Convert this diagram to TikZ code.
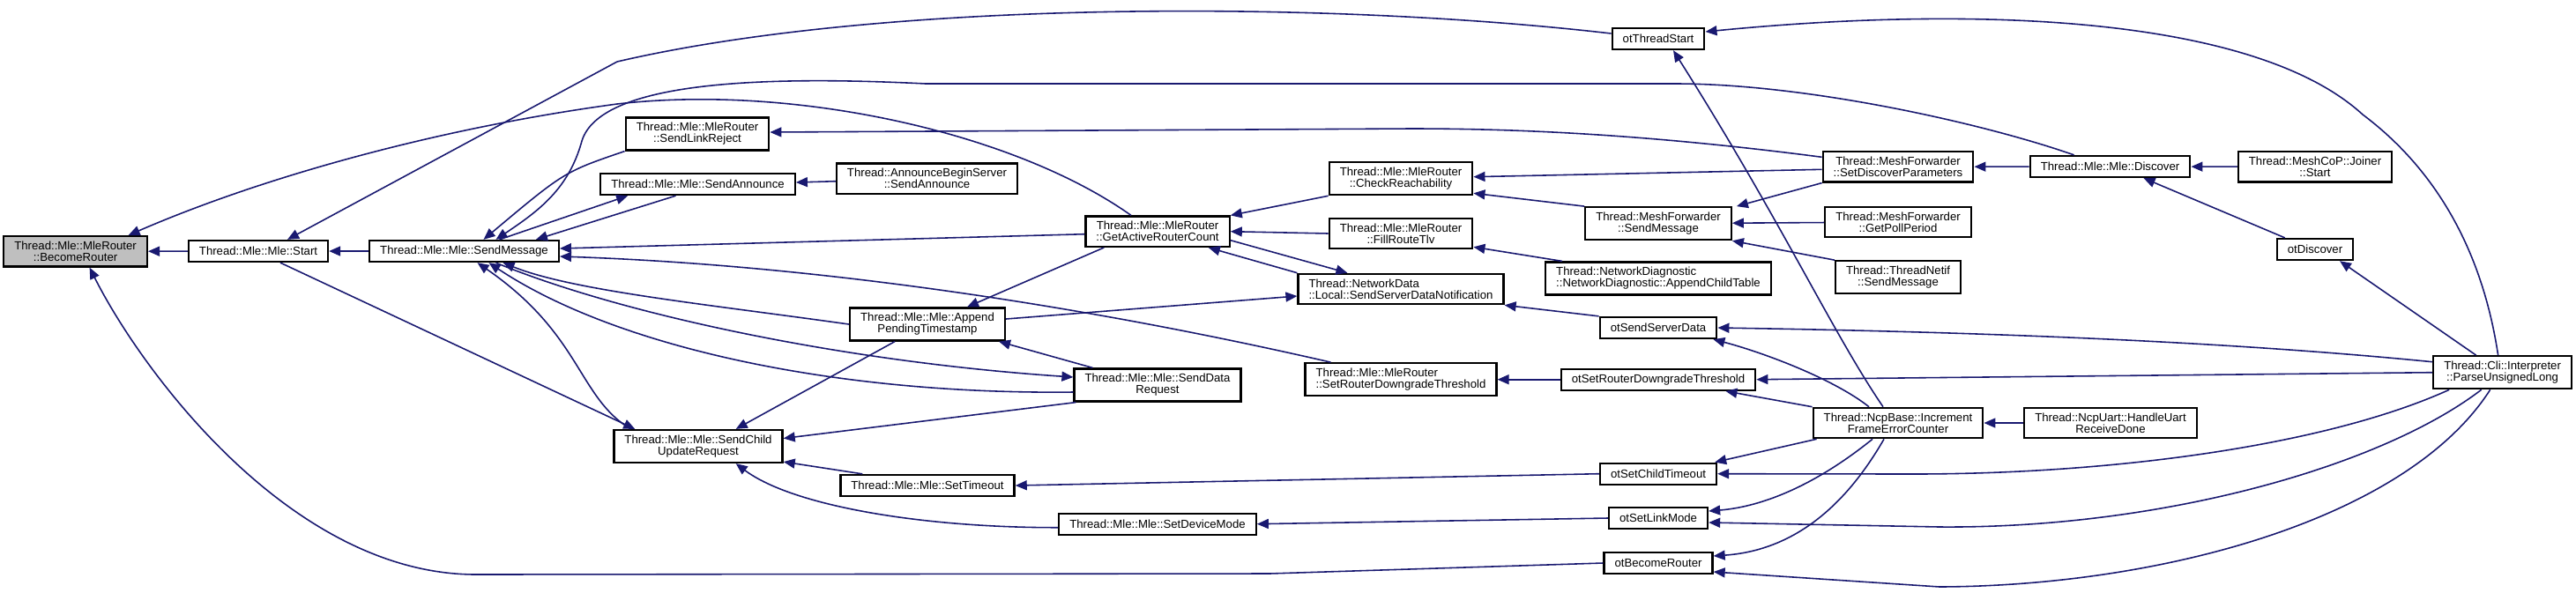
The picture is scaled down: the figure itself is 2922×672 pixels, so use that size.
\documentclass[tikz,border=0pt]{standalone}
\usepackage{fontspec}
\setmainfont{Liberation Sans}
\usetikzlibrary{arrows.meta,calc}
\definecolor{Edge}{HTML}{191970}
\definecolor{RootFill}{HTML}{BFBFBF}

\begin{document}
\begin{tikzpicture}[x=0.01cm,y=-0.01cm,>={Triangle[length=0.13cm,width=0.11cm]},
  fn/.style={draw=black,fill=white,line width=0.65pt,inner xsep=0.12cm,inner ysep=0.058cm,
    minimum height=0.24cm,align=center,font=\fontsize{3.75}{3.7}\selectfont},
  fnl/.style={fn,align=left},
  rootfn/.style={fn,fill=RootFill},
  call/.style={->,Edge,line width=0.45pt}]
\useasboundingbox (0,0) rectangle (2922,672);
\node[rootfn] (BR) at (85.6,285.3) {Thread::Mle::MleRouter\\::BecomeRouter};
\node[fn] (Start) at (293,285) {Thread::Mle::Mle::Start};
\node[fn] (SM) at (526.5,285) {Thread::Mle::Mle::SendMessage};
\node[fn] (SLR) at (791,152) {Thread::Mle::MleRouter\\::SendLinkReject};
\node[fn] (SA) at (791.5,209) {Thread::Mle::Mle::SendAnnounce};
\node[fn] (SCUR) at (792,506.5) {Thread::Mle::Mle::SendChild\\UpdateRequest};
\node[fn] (ABS) at (1051.5,202.7) {Thread::AnnounceBeginServer\\::SendAnnounce};
\node[fn] (APT) at (1052,368) {Thread::Mle::Mle::Append\\PendingTimestamp};
\node[fn] (ST) at (1052,551) {Thread::Mle::Mle::SetTimeout};
\node[fn] (GARC) at (1313,262.7) {Thread::Mle::MleRouter\\::GetActiveRouterCount};
\node[fn] (SDR) at (1313,437) {Thread::Mle::Mle::SendData\\Request};
\node[fn] (SDM) at (1313,594.7) {Thread::Mle::Mle::SetDeviceMode};
\node[fn] (CR) at (1589,202.7) {Thread::Mle::MleRouter\\::CheckReachability};
\node[fn] (FRT) at (1589,265) {Thread::Mle::MleRouter\\::FillRouteTlv};
\node[fnl] (SSDN) at (1589,328) {Thread::NetworkData\\::Local::SendServerDataNotification};
\node[fnl] (SRDT) at (1589,430.7) {Thread::Mle::MleRouter\\::SetRouterDowngradeThreshold};
\node[fn] (OTS) at (1881,44) {otThreadStart};
\node[fn] (MFSM) at (1881,253.7) {Thread::MeshForwarder\\::SendMessage};
\node[fnl] (ACT) at (1881,316) {Thread::NetworkDiagnostic\\::NetworkDiagnostic::AppendChildTable};
\node[fn] (OSSD) at (1881,372) {otSendServerData};
\node[fn] (OSRDT) at (1881,430.7) {otSetRouterDowngradeThreshold};
\node[fn] (OSCT) at (1881,537.7) {otSetChildTimeout};
\node[fn] (OSLM) at (1881,588) {otSetLinkMode};
\node[fn] (OBR) at (1881,639) {otBecomeRouter};
\node[fn] (SDP) at (2153,189.3) {Thread::MeshForwarder\\::SetDiscoverParameters};
\node[fn] (GPP) at (2153,252) {Thread::MeshForwarder\\::GetPollPeriod};
\node[fn] (TNSM) at (2153,314.7) {Thread::ThreadNetif\\::SendMessage};
\node[fn] (IFEC) at (2153,480) {Thread::NcpBase::Increment\\FrameErrorCounter};
\node[fn] (DIS) at (2393.5,189) {Thread::Mle::Mle::Discover};
\node[fn] (HURD) at (2394,480) {Thread::NcpUart::HandleUart\\ReceiveDone};
\node[fn] (JS) at (2626,189.3) {Thread::MeshCoP::Joiner\\::Start};
\node[fn] (OD) at (2626,283) {otDiscover};
\node[fn] (PUL) at (2838.6,422.7) {Thread::Cli::Interpreter\\::ParseUnsignedLong};
\draw[call] (Start) -- (BR);
\draw[call] ($(GARC.north)+(-30,0)$) .. controls (1150,150) and (900,95) .. (700,118) .. controls (500,145) and (300,200) .. ($(BR.north)+(60,0)$);
\draw[call] (OBR.west) -- (1440,651) -- (540,652) .. controls (330,652) and (160,420) .. ($(BR.south)+(16,0)$);
\draw[call] (SM) -- (Start);
\draw[call] ($(OTS.west)+(0,-6)$) .. controls (1500,0) and (1000,0) .. (700,70) -- ($(Start.north)+(33,0)$);
\draw[call] ($(Start.south)+(25,0)$) -- ($(SCUR.north west)+(25,0)$);
\draw[call] ($(DIS.north)+(-41,0)$) .. controls (2250,140) and (2050,95) .. (1900,95) -- (1050,95) .. controls (850,85) and (680,95) .. (660,160) .. controls (645,215) and (610,240) .. ($(SM.north)+(36,0)$);
\draw[call] (SLR.south west) .. controls (640,195) .. ($(SM.north)+(22,0)$);
\draw[call] ($(SM.north)+(40,0)$) -- ($(SA.south west)+(32,0)$);
\draw[call] ($(SA.south)+(-25,0)$) -- ($(SM.north east)+(-27,0)$);
\draw[call] ($(ABS.west)+(0,3)$) -- ($(SA.east)+(0,-2)$);
\draw[call] ($(GARC.west)+(0,3)$) -- ($(SM.east)+(0,-3)$);
\draw[call] ($(SRDT.north west)+(30,0)$) .. controls (1200,340) and (900,300) .. ($(SM.east)+(0,6)$);
\draw[call] ($(SCUR.north west)+(20,0)$) .. controls (655,450) and (660,380) .. ($(SM.south)+(15,0)$);
\draw[call] (APT.west) .. controls (800,345) and (650,330) .. ($(SM.south)+(44,0)$);
\draw[call] ($(SM.south)+(36,0)$) .. controls (700,355) and (950,410) .. ($(SDR.west)+(0,-9)$);
\draw[call] ($(SDR.west)+(0,8)$) .. controls (950,448) and (700,395) .. ($(SM.south)+(28,0)$);
\draw[call] (CR.south west) -- (GARC.north east);
\draw[call] (FRT.west) -- (GARC.east);
\draw[call] (SSDN.north west) -- ($(GARC.south east)+(-25,0)$);
\draw[call] ($(GARC.east)+(0,10)$) -- ($(SSDN.north west)+(57,0)$);
\draw[call] ($(GARC.south west)+(22,0)$) -- ($(APT.north)+(45,0)$);
\draw[call] ($(APT.east)+(0,-6)$) -- ($(SSDN.west)+(0,8)$);
\draw[call] ($(SDR.north west)+(22,0)$) -- ($(APT.south east)+(-8,0)$);
\draw[call] ($(SDR.south west)+(3,0)$) -- ($(SCUR.east)+(0,-9)$);
\draw[call] ($(APT.south)+(-37,0)$) -- ($(SCUR.north east)+(-54,0)$);
\draw[call] ($(ST.north west)+(26,0)$) -- ($(SCUR.south east)+(0,-2)$);
\draw[call] ($(SDM.west)+(0,4)$) .. controls (1050,599) and (900,575) .. ($(SCUR.south east)+(-54,0)$);
\draw[call] (OSCT.west) -- (ST.east);
\draw[call] (OSLM.west) -- (SDM.east);
\draw[call] (OSRDT) -- (SRDT);
\draw[call] (OSSD.north west) -- (SSDN.south east);
\draw[call] ($(SDP.west)+(0,3)$) -- ($(CR.east)+(0,-2)$);
\draw[call] (MFSM.north west) -- ($(CR.south east)+(0,-3)$);
\draw[call] ($(ACT.north west)+(20,0)$) -- ($(FRT.south east)+(0,-3)$);
\draw[call] ($(SDP.west)+(0,-11)$) .. controls (1850,150) and (1700,146) .. (1600,146) -- ($(SLR.east)+(0,-2)$);
\draw[call] (SDP.south west) -- ($(MFSM.north east)+(5,0)$);
\draw[call] (GPP) -- (MFSM);
\draw[call] (TNSM.north west) -- (MFSM.south east);
\draw[call] (DIS) -- (SDP);
\draw[call] (JS) -- (DIS);
\draw[call] ($(OD.north west)+(10,0)$) -- ($(DIS.south)+(38,0)$);
\draw[call] ($(PUL.north)+(-30,0)$) -- ($(OD.south)+(28,0)$);
\draw[call] ($(PUL.north)+(-5,0)$) .. controls (2815,280) and (2760,190) .. (2680,130) .. controls (2560,20) and (2250,5) .. ($(OTS.east)+(0,-8)$);
\draw[call] ($(IFEC.north)+(-17,0)$) .. controls (2080,380) and (2020,250) .. ($(OTS.south)+(17,0)$);
\draw[call] ($(PUL.west)+(0,-12)$) .. controls (2500,385) and (2200,376) .. (OSSD.east);
\draw[call] ($(IFEC.north)+(-33,0)$) .. controls (2080,430) and (2000,400) .. ($(OSSD.south east)+(-5,0)$);
\draw[call] (PUL.west) -- (OSRDT.east);
\draw[call] (IFEC.north west) -- ($(OSRDT.south east)+(-35,0)$);
\draw[call] ($(IFEC.south west)+(5,0)$) -- ($(OSCT.north east)+(-3,0)$);
\draw[call] ($(PUL.south west)+(19,0)$) .. controls (2640,505) and (2400,538) .. (2170,538) -- (OSCT.east);
\draw[call] ($(IFEC.south)+(-29,0)$) .. controls (2060,550) and (2000,575) .. ($(OSLM.east)+(0,-8)$);
\draw[call] ($(PUL.south)+(-24,0)$) .. controls (2700,530) and (2450,600) .. (2200,598) -- ($(OSLM.east)+(0,5)$);
\draw[call] ($(IFEC.south)+(-16,0)$) .. controls (2090,580) and (2030,625) .. ($(OBR.east)+(0,-8)$);
\draw[call] ($(PUL.south)+(-14,0)$) .. controls (2730,590) and (2450,665) .. (2200,666) -- ($(OBR.east)+(0,10)$);
\draw[call] (HURD) -- (IFEC);
\end{tikzpicture}
\end{document}
